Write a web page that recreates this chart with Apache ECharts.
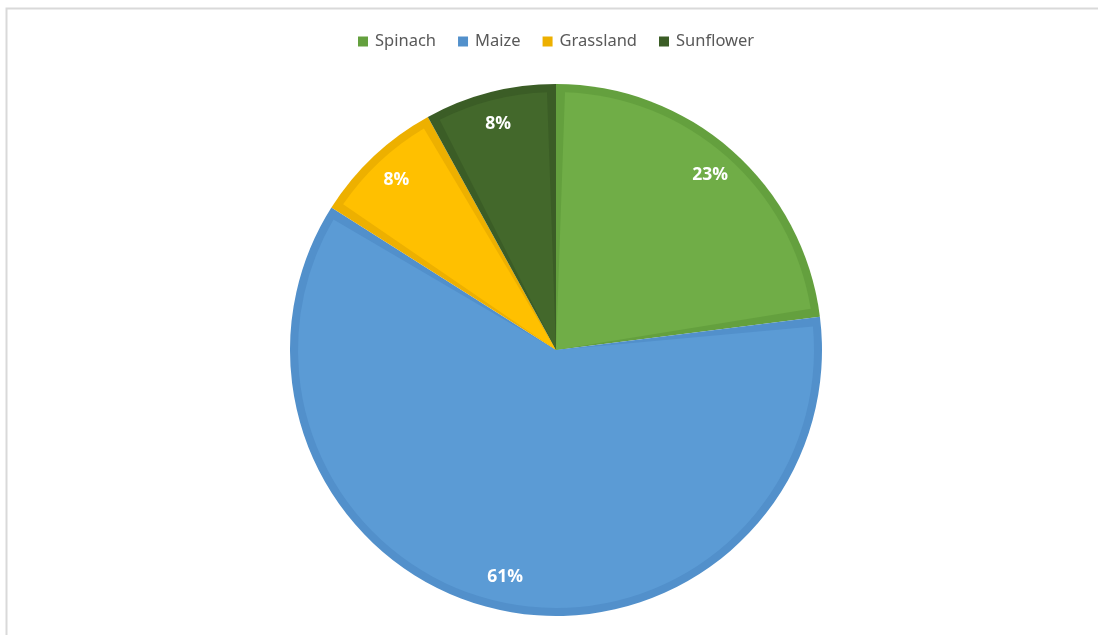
<!DOCTYPE html>
<html>
<head>
<meta charset="utf-8">
<script src="https://cdn.jsdelivr.net/npm/echarts@6/dist/echarts.min.js"></script>
<style>
  html, body { margin: 0; padding: 0; background: #ffffff; }
  #chart { width: 1098px; height: 635px; }
</style>
</head>
<body>
<div id="chart"></div>
<script>
// Share of land cover by crop type (percent)
const categories = ['Spinach', 'Maize', 'Grassland', 'Sunflower'];
const shares = [23, 61, 8, 8];
const fillColors = ['#70AD47', '#5B9BD5', '#FFC000', '#43682B'];
const edgeColors = ['#64A03E', '#5290CB', '#EDB000', '#3B5D26'];

const PIE_CENTER = [556, 350];
const OUTER_R = 266;   // outer edge of each slice
const EDGE_W = 8;      // width of the darker inner rim

const edgeData = categories.map((name, i) => ({
  name, value: shares[i], itemStyle: { color: edgeColors[i] }
}));
const fillData = categories.map((name, i) => ({
  name, value: shares[i], itemStyle: { color: fillColors[i] }
}));
const labelData = categories.map((name, i) => ({ name, value: shares[i] }));

const chart = echarts.init(document.getElementById('chart'), null, { renderer: 'canvas' });

const basePie = {
  type: 'pie',
  center: PIE_CENTER,
  startAngle: 90,
  clockwise: true,
  silent: true,
  legendHoverLink: false,
  label: { show: false },
  labelLine: { show: false },
  emphasis: { disabled: true }
};

chart.setOption({
  animation: false,
  backgroundColor: '#ffffff',
  color: fillColors,
  graphic: [{
    type: 'rect',
    shape: { x: 6.5, y: 8.5, width: 1200, height: 1000 },
    style: { fill: 'none', stroke: '#d9d9d9', lineWidth: 2 },
    silent: true,
    z: -10
  }],
  legend: {
    data: categories,
    top: 33,
    left: 358,
    padding: 0,
    itemWidth: 10,
    itemHeight: 10,
    itemGap: 22,
    icon: 'rect',
    textStyle: { fontFamily: 'Noto Sans', fontSize: 16.5, color: '#595959', padding: [0, 0, 0, 2] }
  },
  series: [
    Object.assign({}, basePie, {
      name: 'Rim',
      radius: [0, OUTER_R],
      itemStyle: { borderWidth: 0 },
      data: edgeData
    }),
    Object.assign({}, basePie, {
      name: 'Land cover',
      radius: [0, OUTER_R - EDGE_W],
      padAngle: 4,
      itemStyle: { borderWidth: 0 },
      data: fillData
    }),
    Object.assign({}, basePie, {
      name: 'Labels',
      radius: [206, 254],
      itemStyle: { color: 'transparent', borderWidth: 0 },
      label: {
        show: true,
        position: 'inside',
        formatter: '{d}%',
        color: '#ffffff',
        fontFamily: 'Open Sans',
        fontWeight: 'bold',
        fontSize: 17.5
      },
      data: labelData
    })
  ]
});
</script>
</body>
</html>
